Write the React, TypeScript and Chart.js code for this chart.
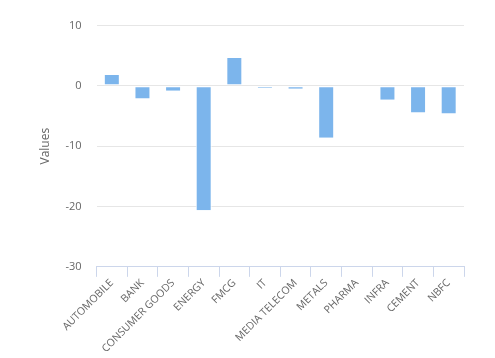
import React, { useEffect, useRef } from "react";
import { Chart, registerables } from "chart.js";

Chart.register(...registerables);

const categories = [
  "AUTOMOBILE",
  "BANK",
  "CONSUMER GOODS",
  "ENERGY",
  "FMCG",
  "IT",
  "MEDIA TELECOM",
  "METALS",
  "PHARMA",
  "INFRA",
  "CEMENT",
  "NBFC",
];
const values = [1.8, -2.1, -0.8, -20.6, 4.6, -0.3, -0.5, -8.6, 0, -2.3, -4.4, -4.6];
const yMin = -30;
const yMax = 10;
const yStep = 10;
const yTitle = "Values";

export default function App() {
  const ref = useRef<HTMLCanvasElement | null>(null);
  useEffect(() => {
    if (!ref.current) return;
    const font = "'Open Sans', 'DejaVu Sans', sans-serif";
    const chart = new Chart(ref.current, {
      type: "bar",
      data: {
        labels: categories,
        datasets: [
          {
            data: values,
            backgroundColor: "#7cb5ec",
            borderColor: "#ffffff",
            borderWidth: 1,
            borderSkipped: "end",
            categoryPercentage: 0.6,
            barPercentage: 0.87,
          },
        ],
      },
      options: {
        animation: false,
        responsive: true,
        maintainAspectRatio: false,
        layout: { padding: { top: 25.5, right: 31, left: 20, bottom: 3 } },
        plugins: { legend: { display: false }, tooltip: { enabled: false } },
        scales: {
          x: {
            offset: true,
            grid: {
              offset: true,
              drawOnChartArea: false,
              drawTicks: true,
              tickLength: 10,
              color: "#ccd6eb",
            },
            border: { color: "#ccd6eb" },
            ticks: {
              color: "#666666",
              font: { family: font, size: 10.5 },
              minRotation: 45,
              maxRotation: 45,
              autoSkip: false,
              padding: 0,
            },
          },
          y: {
            min: yMin,
            max: yMax,
            grid: { color: "#e6e6e6", drawTicks: false },
            border: { display: false },
            ticks: {
              stepSize: yStep,
              color: "#666666",
              font: { family: font, size: 11 },
              padding: 15,
            },
            title: {
              display: true,
              text: yTitle,
              color: "#666666",
              font: { family: font, size: 12 },
              padding: { top: 18, bottom: -2 },
            },
          },
        },
      },
    });
    return () => chart.destroy();
  }, []);
  return (
    <div style={{ position: "fixed", left: 0, top: 0, width: 495, height: 358 }}>
      <canvas ref={ref} />
    </div>
  );
}
